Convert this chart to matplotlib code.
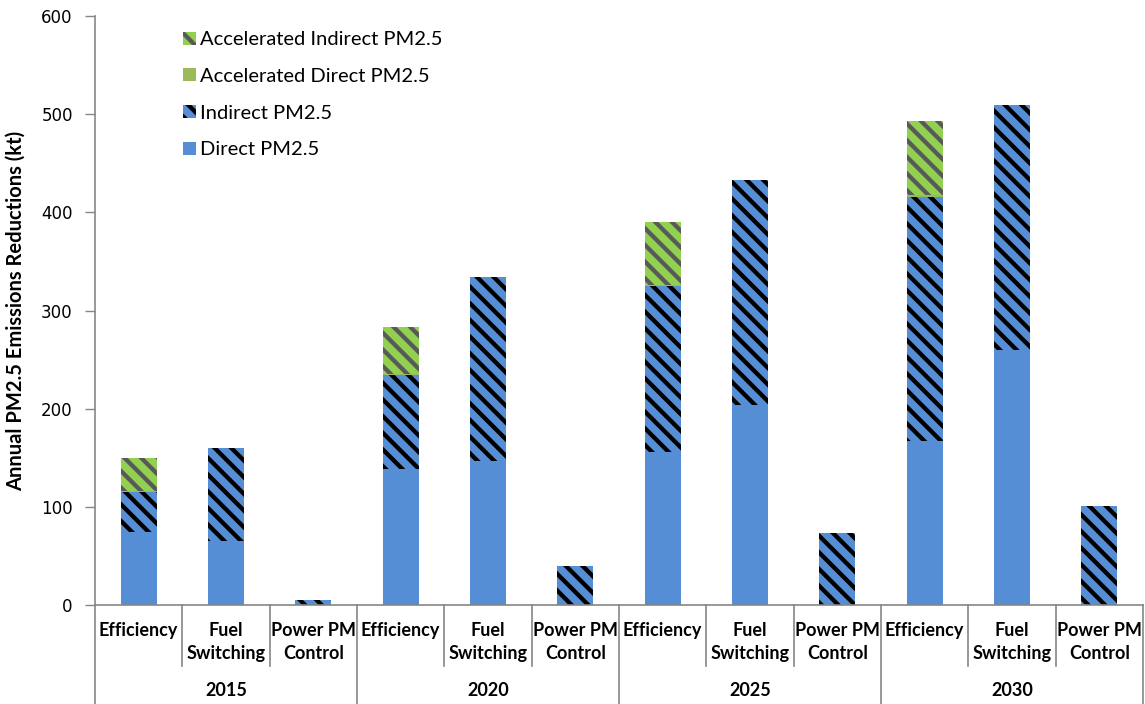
import numpy as np
import matplotlib
matplotlib.use('Agg')
import matplotlib.pyplot as plt
import matplotlib.transforms as mtransforms

plt.rcParams['hatch.linewidth'] = 3.1

YEARS = ['2015', '2020', '2025', '2030']
MEASURES = ['Efficiency', 'Fuel\nSwitching', 'Power PM\nControl']

# values (kt), order: year x measure
DIRECT = [74, 65, 0, 138.5, 147, 0, 155.5, 204, 0, 167, 260, 0]
INDIRECT = [41.5, 94.5, 5, 96, 187, 40, 169.5, 229, 73, 249, 249, 101]
ACCEL_DIRECT = [0.5, 0, 0, 1, 0, 0, 1, 0, 0, 2, 0, 0]
ACCEL_INDIRECT = [34, 0, 0, 47.5, 0, 0, 64, 0, 0, 75, 0, 0]

BLUE = '#558ED5'
LIME = '#92D050'
OLIVE = '#9BBB59'
GREY = '#868686'

fig = plt.figure(figsize=(11.45, 7.04), dpi=100)
ax = fig.add_axes([95 / 1145, 99 / 704, 1048 / 1145, 589 / 704])

x = np.arange(len(DIRECT))
direct = np.array(DIRECT, dtype=float)
indirect = np.array(INDIRECT, dtype=float)
acc_d = np.array(ACCEL_DIRECT, dtype=float)
acc_i = np.array(ACCEL_INDIRECT, dtype=float)
w = 0.41

ax.bar(x, direct, w, color=BLUE, linewidth=0, label='Direct PM2.5')
ax.bar(x, indirect, w, bottom=direct, color=BLUE, edgecolor='black',
       hatch='\\\\', linewidth=0, label='Indirect PM2.5')
ax.bar(x, acc_d, w, bottom=direct + indirect, color=OLIVE, linewidth=0,
       label='Accelerated Direct PM2.5')
ax.bar(x, acc_i, w, bottom=direct + indirect + acc_d, color=LIME,
       edgecolor='#595959', hatch='\\\\', linewidth=0,
       label='Accelerated Indirect PM2.5')

ax.set_xlim(-0.5, len(x) - 0.5)
ax.set_ylim(0, 600)
ax.set_yticks(np.arange(0, 601, 100))
ax.tick_params(axis='y', direction='out', length=7, color=GREY, width=1,
               labelsize=12, pad=9)
for lab in ax.get_yticklabels():
    lab.set_family('DejaVu Sans')
ax.set_xticks([])
for side in ['top', 'right']:
    ax.spines[side].set_visible(False)
for side in ['left', 'bottom']:
    ax.spines[side].set_color(GREY)
    ax.spines[side].set_linewidth(1.2)

ax.set_ylabel('Annual PM2.5 Emissions Reductions (kt)', fontsize=14.5,
              fontweight='bold', family='Lato')
ax.yaxis.set_label_coords(-0.066, 0.5)

# category and year labels with separators below the axis
trans = mtransforms.blended_transform_factory(ax.transData, ax.transAxes)
for i in range(len(x)):
    ax.text(i, -0.029, MEASURES[i % 3], transform=trans, ha='center',
            va='top', fontsize=13, fontweight='bold', family='Lato',
            linespacing=1.45)
for i in range(len(x) + 1):
    bottom = -0.17 if i % 3 == 0 else -0.104
    ax.plot([i - 0.5, i - 0.5], [0, bottom], transform=trans, color=GREY,
            linewidth=1.2, clip_on=False)
for j, year in enumerate(YEARS):
    ax.text(3 * j + 1, -0.146, year, transform=trans, ha='center',
            va='center', fontsize=13, fontweight='bold', family='Lato')

handles, labels = ax.get_legend_handles_labels()
ax.legend(handles[::-1], labels[::-1], loc='upper left',
          bbox_to_anchor=(0.067, 1.005), frameon=False,
          prop={'family': 'Lato', 'size': 14.5}, handlelength=0.62,
          handleheight=0.62, handletextpad=0.2, labelspacing=0.98)

fig.savefig('out.png', dpi=100)
